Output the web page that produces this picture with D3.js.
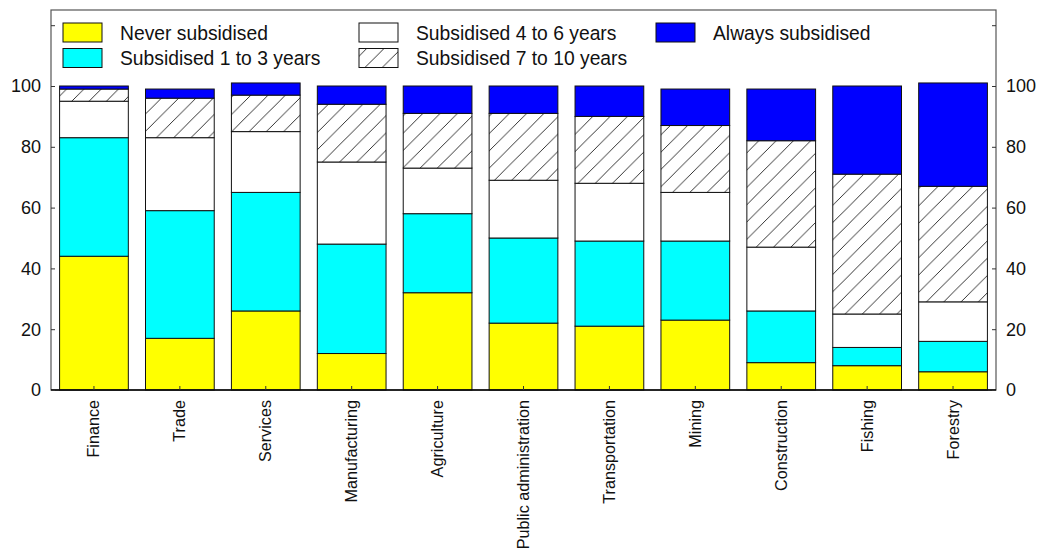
<!DOCTYPE html>
<html>
<head>
<meta charset="utf-8">
<script src="https://cdn.jsdelivr.net/npm/d3@7"></script>
<style>
  html, body { margin: 0; padding: 0; background: #fff; }
  svg { display: block; font-family: "Liberation Sans", Arial, sans-serif; }
</style>
</head>
<body>
<svg id="chart" width="1040" height="552"></svg>
<script>
// Share of firms by number of subsidised years, per sector (%)
const categories = ["Finance", "Trade", "Services", "Manufacturing", "Agriculture",
  "Public administration", "Transportation", "Mining", "Construction", "Fishing", "Forestry"];
const neverSubsidised = [44, 17, 26, 12, 32, 22, 21, 23, 9, 8, 6];
const subsidised1to3  = [39, 42, 39, 36, 26, 28, 28, 26, 17, 6, 10];
const subsidised4to6  = [12, 24, 20, 27, 15, 19, 19, 16, 21, 11, 13];
const subsidised7to10 = [4, 13, 12, 19, 18, 22, 22, 22, 35, 46, 38];
const alwaysSubsidised = [1, 3, 4, 6, 9, 9, 10, 12, 17, 29, 34];
const seriesNames = ["Never subsidised", "Subsidised 1 to 3 years", "Subsidised 4 to 6 years",
  "Subsidised 7 to 10 years", "Always subsidised"];
const yTicks = [0, 20, 40, 60, 80, 100, 120];
const yTickLabels = ["0", "20", "40", "60", "80", "100", ""];

const seriesValues = [neverSubsidised, subsidised1to3, subsidised4to6, subsidised7to10, alwaysSubsidised];
const fills = ["#ffff00", "#00ffff", "#ffffff", "url(#hatch)", "#0000ff"];

const svg = d3.select("#chart");
const plotLeft = 51, plotRight = 996, plotTop = 10, plotBottom = 390;

// hatch pattern for the 7-10 years band
const defs = svg.append("defs");
const hs = 17.3;
const pat = defs.append("pattern")
  .attr("id", "hatch")
  .attr("patternUnits", "userSpaceOnUse")
  .attr("width", hs).attr("height", hs);
pat.append("rect").attr("width", hs).attr("height", hs).attr("fill", "#fff");
pat.append("path")
  .attr("d", `M0,${hs} L${hs},0 M${-hs/2},${hs/2} L${hs/2},${-hs/2} M${hs/2},${hs*1.5} L${hs*1.5},${hs/2}`)
  .attr("stroke", "#000").attr("stroke-width", 0.8);

const rows = categories.map((c, i) => {
  const r = { category: c };
  seriesNames.forEach((s, k) => { r[s] = seriesValues[k][i]; });
  return r;
});
const stacked = d3.stack().keys(seriesNames)(rows);

const x = d3.scaleBand().domain(categories).range([plotLeft, plotRight]).paddingInner(0.2).paddingOuter(0.1);
const y = d3.scaleLinear().domain([0, 125]).range([plotBottom, plotTop]);

// bars
stacked.forEach((layer, k) => {
  svg.append("g").selectAll("rect").data(layer).join("rect")
    .attr("x", d => x(d.data.category))
    .attr("y", d => y(d[1]))
    .attr("width", x.bandwidth())
    .attr("height", d => y(d[0]) - y(d[1]))
    .attr("fill", fills[k])
    .attr("stroke", "#111")
    .attr("stroke-width", 1);
});

// frame
svg.append("rect")
  .attr("x", plotLeft).attr("y", plotTop)
  .attr("width", plotRight - plotLeft).attr("height", plotBottom - plotTop)
  .attr("fill", "none").attr("stroke", "#555").attr("stroke-width", 1.2);
svg.append("line").attr("x1", plotLeft).attr("x2", plotRight).attr("y1", plotBottom).attr("y2", plotBottom)
  .attr("stroke", "#000").attr("stroke-width", 1.5);

// y axes, ticks pointing inward
const yAxisL = d3.axisRight(y).tickValues(yTicks).tickSize(4).tickFormat("");
const gL = svg.append("g").attr("transform", `translate(${plotLeft},0)`).call(yAxisL);
gL.select(".domain").remove();
gL.selectAll(".tick line").attr("stroke", "#333");
const yAxisR = d3.axisLeft(y).tickValues(yTicks).tickSize(4).tickFormat("");
const gR = svg.append("g").attr("transform", `translate(${plotRight},0)`).call(yAxisR);
gR.select(".domain").remove();
gR.selectAll(".tick line").attr("stroke", "#333");

// y tick labels on both sides
yTicks.forEach((t, i) => {
  svg.append("text").attr("x", plotLeft - 10).attr("y", y(t)).attr("dy", "0.35em")
    .attr("text-anchor", "end").attr("font-size", 18).attr("fill", "#111").text(yTickLabels[i]);
  svg.append("text").attr("x", plotRight + 10).attr("y", y(t)).attr("dy", "0.35em")
    .attr("text-anchor", "start").attr("font-size", 18).attr("fill", "#111").text(yTickLabels[i]);
});

// x axis ticks (inward) and rotated labels
const xAxis = d3.axisTop(x).tickSize(4).tickFormat("");
const gX = svg.append("g").attr("transform", `translate(0,${plotBottom})`).call(xAxis);
gX.select(".domain").remove();
gX.selectAll(".tick line").attr("stroke", "#333");

svg.append("g").selectAll("text").data(categories).join("text")
  .attr("transform", d => `translate(${x(d) + x.bandwidth() / 2 + 5.5},${plotBottom + 10}) rotate(-90)`)
  .attr("text-anchor", "end")
  .attr("font-size", 16.2)
  .attr("fill", "#111")
  .text(d => d);

// legend
const legendItems = [
  { k: 0, bx: 63, by: 23 },
  { k: 1, bx: 63, by: 48.5 },
  { k: 2, bx: 359, by: 23 },
  { k: 3, bx: 359, by: 48.5 },
  { k: 4, bx: 656, by: 23 }
];
const lg = svg.append("g");
legendItems.forEach(it => {
  lg.append("rect").attr("x", it.bx).attr("y", it.by).attr("width", 39).attr("height", 19)
    .attr("fill", fills[it.k]).attr("stroke", "#111").attr("stroke-width", 1);
  lg.append("text").attr("x", it.bx + 57).attr("y", it.by + 16.5)
    .attr("font-size", 19.3).attr("fill", "#111").text(seriesNames[it.k]);
});
</script>
</body>
</html>
